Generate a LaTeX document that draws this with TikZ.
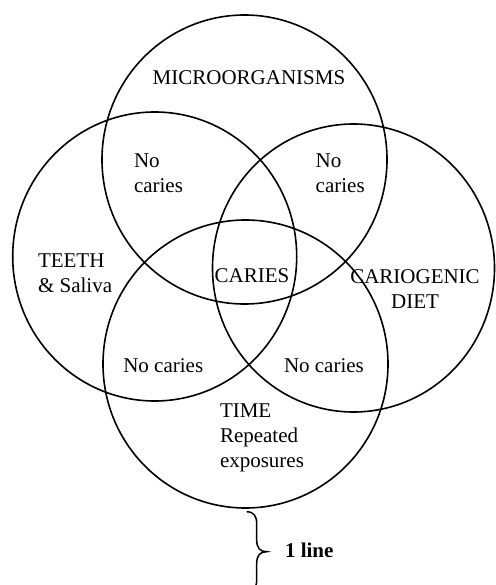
\documentclass[tikz,border=0pt]{standalone}
\usepackage{fontspec}
\setmainfont{Liberation Serif}
\begin{document}
\begin{tikzpicture}[x=1pt,y=-1pt,
  ring/.style={draw=black,line width=1.6pt},
  lbl/.style={inner sep=0pt,outer sep=0pt,font=\fontsize{21}{25}\selectfont},
  bracepath/.style={draw=black,line width=1.5pt}]
\useasboundingbox (0,0) rectangle (495,585);
% circle centres
\coordinate (cM) at (244.5,159.5);
\coordinate (cT) at (154.7,256.5);
\coordinate (cD) at (353.5,268);
\coordinate (cTime) at (245.5,364);
\draw[ring] (cM) ellipse [x radius=142.5pt, y radius=144.5pt];
\draw[ring] (cT) ellipse [x radius=142pt, y radius=144.5pt];
\draw[ring] (cD) ellipse [x radius=141pt, y radius=144pt];
\draw[ring] (cTime) ellipse [x radius=142.5pt, y radius=144pt];
% labels
\node[lbl,anchor=base] (micro) at (249,85) {MICROORGANISMS};
\node[lbl,anchor=north west,align=left] (nctl) at (134,154) {No\\caries};
\node[lbl,anchor=north west,align=left] (nctr) at (315.7,154) {No\\caries};
\node[lbl,anchor=north west,align=left] (teeth) at (38,253.5) {TEETH\\\& Saliva};
\node[lbl,anchor=base] (caries) at (252,282.2) {CARIES};
\node[lbl,anchor=north,align=center] (diet) at (415,270) {CARIOGENIC\\DIET};
\node[lbl,anchor=base west] (ncbl) at (123.3,372.7) {No caries};
\node[lbl,anchor=base west] (ncbr) at (284,372.7) {No caries};
\node[lbl,anchor=north west,align=left] (time) at (220,403.3) {TIME\\Repeated\\exposures};
\node[lbl,anchor=base west,font=\fontsize{21}{25}\selectfont\bfseries] (oneline) at (285,557) {1 line};
% brace
\coordinate (btop) at (246.7,511.7);
\coordinate (btip) at (266.7,551.7);
\coordinate (bbot) at (246.7,591.7);
\draw[bracepath] (btop) .. controls (254,512) and (256.7,516) .. (256.7,524)
  -- (256.7,540) .. controls (256.7,548) and (260,551.7) .. (btip)
  .. controls (260,551.7) and (256.7,555.4) .. (256.7,563.4)
  -- (256.7,579.4) .. controls (256.7,587.4) and (254,591.4) .. (bbot);
\end{tikzpicture}
\end{document}
